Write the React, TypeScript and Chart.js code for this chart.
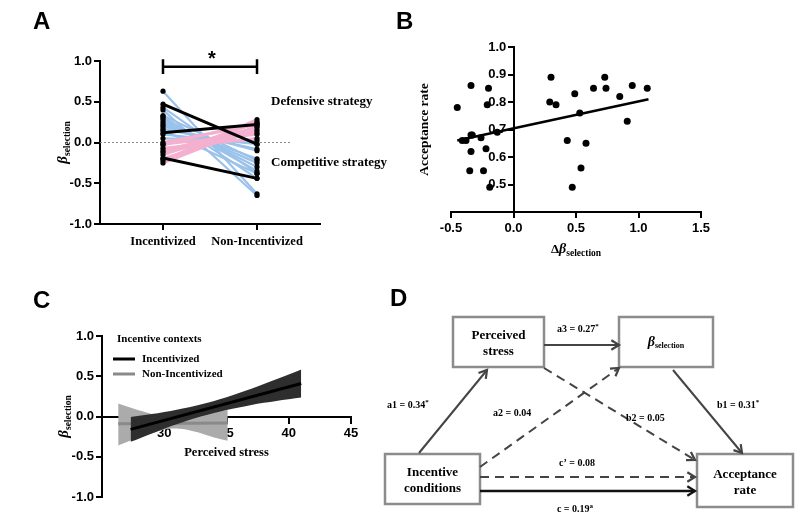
import React, { useEffect, useRef } from "react";
import { Chart, registerables } from "chart.js";

Chart.register(...registerables);

const SANS = "'Liberation Sans', Arial, sans-serif";
const SERIF = "'Liberation Serif', 'Times New Roman', serif";

// ---------------- Panel A data ----------------
const groupLabels = ["Incentivized", "Non-Incentivized"];
const blueIncentivized = [0.63, 0.43, 0.40, 0.32, 0.30, 0.28, 0.25, 0.22, 0.20, 0.17, 0.15, 0.10, 0.05, 0.33];
const blueNonIncentivized = [-0.63, -0.38, -0.65, -0.44, -0.35, -0.30, -0.25, -0.20, -0.10, -0.08, -0.38, -0.02, 0.02, -0.22];
const pinkIncentivized = [-0.25, -0.22, -0.20, -0.15, -0.12, -0.10, -0.07, -0.03, -0.02, 0.0];
const pinkNonIncentivized = [0.20, 0.28, 0.15, 0.24, 0.12, 0.18, 0.05, 0.25, 0.10, 0.22];
const meanIncentivized = [0.47, 0.12, -0.19];
const meanNonIncentivized = [-0.02, 0.22, -0.44];
const aYTicks = [-1, -0.5, 0, 0.5, 1];

// ---------------- Panel B data ----------------
const deltaBeta = [-0.45, -0.34, -0.20, -0.21, -0.41, -0.38, -0.34, -0.33, -0.26, -0.13, -0.34, -0.22, -0.35, -0.24, -0.19,
  0.30, 0.29, 0.34, 0.49, 0.53, 0.43, 0.58, 0.54, 0.47, 0.64, 0.73, 0.74, 0.85, 0.95, 0.91, 1.07];
const acceptanceRate = [0.78, 0.86, 0.85, 0.79, 0.66, 0.66, 0.68, 0.68, 0.67, 0.69, 0.62, 0.63, 0.55, 0.55, 0.49,
  0.89, 0.80, 0.79, 0.83, 0.76, 0.66, 0.65, 0.56, 0.49, 0.85, 0.89, 0.85, 0.82, 0.86, 0.73, 0.85];
const fitX = [-0.45, 1.08];
const fitY = [0.66, 0.81];

// ---------------- Panel C data ----------------
const incStressLine = [27.3, 41.0];
const incBetaLine = [-0.16, 0.41];
const incBandX = [27.3, 29, 31, 33, 35, 37, 39, 41];
const incBandUpper = [-0.005, 0.03, 0.084, 0.152, 0.24, 0.344, 0.462, 0.585];
const incBandLower = [-0.315, -0.21, -0.096, 0.002, 0.08, 0.144, 0.192, 0.235];
const nonStressLine = [26.3, 35.1];
const nonBetaLine = [-0.09, -0.08];
const nonBandX = [26.3, 27.5, 29, 30, 31, 32, 33, 34, 35.1];
const nonBandUpper = [0.16, 0.10, 0.03, -0.01, -0.03, -0.01, 0.02, 0.05, 0.08];
const nonBandLower = [-0.36, -0.29, -0.21, -0.16, -0.15, -0.17, -0.21, -0.26, -0.30];
const legendNames = ["Incentivized", "Non-Incentivized"];

// ---------------- Panel D (diagram) ----------------
const nodeNames = ["stress", "beta", "incentive", "accept"];
const nodeLines = [["Perceived", "stress"], ["β"], ["Incentive", "conditions"], ["Acceptance", "rate"]];
const nodeBoxes = [
  [73, 37, 164, 87],
  [239, 37, 333, 87],
  [5, 174, 100, 224],
  [317, 174, 413, 227],
];
const edgeNames = ["a1", "a2", "a3", "b2", "b1", "c'", "c"];
const edgeFrom = [[39, 173], [100, 187], [164, 65], [164, 88], [293, 90], [100, 197], [100, 211]];
const edgeTo = [[107, 90], [239, 88], [239, 65], [315, 180], [362, 173], [315, 197], [315, 211]];
const edgeDashed = [false, true, false, true, false, true, false];
const edgeLabels = ["a1 = 0.34", "a2 = 0.04", "a3 = 0.27", "b2 = 0.05", "b1 = 0.31", "c’ = 0.08", "c = 0.19"];
const edgeSup = ["*", "", "*", "", "*", "", "a"];
const edgeLabelPos = [[7, 128, 0], [113, 136, 0], [177, 52, 0], [246, 141, 0], [337, 128, 0], [197, 186, 1], [195, 232, 1]];

type Part = { t: string; font: string; dy?: number };
function drawParts(ctx: CanvasRenderingContext2D, parts: Part[], x: number, y: number, align: "left" | "center" | "right") {
  ctx.save();
  ctx.textBaseline = "alphabetic";
  ctx.textAlign = "left";
  let total = 0;
  for (const p of parts) { ctx.font = p.font; total += ctx.measureText(p.t).width; }
  let cx = align === "left" ? x : align === "center" ? x - total / 2 : x - total;
  for (const p of parts) {
    ctx.font = p.font;
    ctx.fillText(p.t, cx, y + (p.dy || 0));
    cx += ctx.measureText(p.t).width;
  }
  ctx.restore();
}

function betaTitle(ctx: CanvasRenderingContext2D, x: number, y: number) {
  ctx.save();
  ctx.fillStyle = "#000";
  ctx.translate(x, y);
  ctx.rotate(-Math.PI / 2);
  drawParts(ctx, [
    { t: "β", font: `italic bold 15px ${SERIF}` },
    { t: "selection", font: `bold 9.5px ${SERIF}`, dy: 3 },
  ], 0, 0, "center");
  ctx.restore();
}

const sansBold = (s: number) => ({ family: SANS, size: s, weight: "bold" as const });
const serifBold = (s: number) => ({ family: SERIF, size: s, weight: "bold" as const });

function axisStyle(tickLen = 6) {
  return {
    grid: { display: true, drawOnChartArea: false, drawTicks: true, tickLength: tickLen, color: "#000", lineWidth: 2 },
    border: { display: true, color: "#000", width: 2 },
  };
}

const baseOptions = {
  animation: false as const,
  responsive: false,
  devicePixelRatio: 1,
  events: [] as any[],
  plugins: { legend: { display: false }, tooltip: { enabled: false } },
};

function seg(x0: number, y0: number, x1: number, y1: number, color: string, width: number, dash: number[] = []) {
  return {
    data: [{ x: x0, y: y0 }, { x: x1, y: y1 }],
    showLine: true, borderColor: color, borderWidth: width, borderDash: dash,
    pointRadius: 0, fill: false, tension: 0,
  };
}

// ---------------- Panel A ----------------
function buildA(): any {
  const pts: { x: number; y: number }[] = [];
  [...blueIncentivized, ...pinkIncentivized, ...meanIncentivized].forEach((v) => pts.push({ x: 0, y: v }));
  [...blueNonIncentivized, ...pinkNonIncentivized, ...meanNonIncentivized].forEach((v) => pts.push({ x: 1, y: v }));
  const datasets: any[] = [];
  datasets.push({ data: pts, pointRadius: 2.6, pointBackgroundColor: "#000", pointBorderWidth: 0, showLine: false });
  meanIncentivized.forEach((v, i) => datasets.push(seg(0, v, 1, meanNonIncentivized[i], "#000", 3)));
  pinkIncentivized.forEach((v, i) => datasets.push(seg(0, v, 1, pinkNonIncentivized[i], "#f3b0cf", 3)));
  blueIncentivized.forEach((v, i) => datasets.push(seg(0, v, 1, blueNonIncentivized[i], "#9ac2ea", 2.2)));
  datasets.push(seg(-0.67, 0, 1.35, 0, "#8a8a8a", 1, [2, 2]));

  const plugin = {
    id: "panelA",
    afterDraw(chart: any) {
      const { ctx, scales: { x, y } } = chart;
      betaTitle(ctx, 67, y.getPixelForValue(0));
      ctx.save();
      ctx.strokeStyle = "#000";
      ctx.lineWidth = 2.5;
      const bx0 = x.getPixelForValue(0), bx1 = x.getPixelForValue(1);
      const by = y.getPixelForValue(0.93), byT = y.getPixelForValue(1.02), byB = y.getPixelForValue(0.84);
      ctx.beginPath();
      ctx.moveTo(bx0, by); ctx.lineTo(bx1, by);
      ctx.moveTo(bx0, byT); ctx.lineTo(bx0, byB);
      ctx.moveTo(bx1, byT); ctx.lineTo(bx1, byB);
      ctx.stroke();
      ctx.fillStyle = "#000";
      ctx.font = `bold 20px ${SANS}`;
      ctx.textAlign = "center";
      ctx.textBaseline = "alphabetic";
      ctx.fillText("*", x.getPixelForValue(0.52), by - 2);
      ctx.font = `bold 13px ${SERIF}`;
      ctx.textAlign = "left";
      ctx.textBaseline = "middle";
      ctx.fillText("Defensive strategy", x.getPixelForValue(1.15), y.getPixelForValue(0.5));
      ctx.fillText("Competitive strategy", x.getPixelForValue(1.15), y.getPixelForValue(-0.25));
      ctx.restore();
    },
  };

  return {
    type: "scatter",
    data: { datasets },
    options: {
      ...baseOptions,
      layout: { padding: { left: 0, right: 80, top: 61, bottom: 0 } },
      scales: {
        x: {
          type: "linear", min: -0.67, max: 1.67,
          afterBuildTicks: (s: any) => { s.ticks = [{ value: 0 }, { value: 1 }]; },
          afterFit: (s: any) => { s.height = 36; },
          ticks: { color: "#000", font: serifBold(12.5), padding: 4, autoSkip: false, maxRotation: 0,
            callback: (_v: any, i: number) => groupLabels[i] },
          ...axisStyle(6),
        },
        y: {
          type: "linear", min: -1, max: 1,
          afterBuildTicks: (s: any) => { s.ticks = aYTicks.map((v) => ({ value: v })); },
          afterFit: (s: any) => { s.width = 100; },
          ticks: { color: "#000", font: sansBold(13), padding: 2, callback: (v: any) => Number(v).toFixed(1) },
          ...axisStyle(6),
        },
      },
    },
    plugins: [plugin],
  };
}

// ---------------- Panel B ----------------
function buildB(): any {
  const pts = deltaBeta.map((v, i) => ({ x: v, y: acceptanceRate[i] }));
  const plugin = {
    id: "panelB",
    afterDraw(chart: any) {
      const { ctx, scales: { x, y } } = chart;
      ctx.save();
      ctx.fillStyle = "#000";
      ctx.translate(25, y.getPixelForValue(0.7));
      ctx.rotate(-Math.PI / 2);
      ctx.font = `bold 13.5px ${SERIF}`;
      ctx.textAlign = "center";
      ctx.textBaseline = "middle";
      ctx.fillText("Acceptance rate", 0, 0);
      ctx.restore();
      ctx.save();
      ctx.fillStyle = "#000";
      drawParts(ctx, [
        { t: "Δ", font: `bold 13px ${SERIF}` },
        { t: "β", font: `italic bold 14px ${SERIF}` },
        { t: "selection", font: `bold 9.5px ${SERIF}`, dy: 3 },
      ], x.getPixelForValue(0.5), 253, "center");
      ctx.restore();
    },
  };
  return {
    type: "scatter",
    data: {
      datasets: [
        { data: pts, pointRadius: 3.5, pointBackgroundColor: "#000", pointBorderWidth: 0, showLine: false },
        seg(fitX[0], fitY[0], fitX[1], fitY[1], "#000", 2.5),
      ],
    },
    options: {
      ...baseOptions,
      layout: { padding: { left: 51, right: 99, top: 47, bottom: 0 } },
      scales: {
        x: {
          type: "linear", min: -0.5, max: 1.5,
          afterFit: (s: any) => { s.height = 48; },
          ticks: { stepSize: 0.5, color: "#000", font: sansBold(13), padding: 3, callback: (v: any) => Number(v).toFixed(1) },
          ...axisStyle(6),
        },
        y: {
          type: "linear", min: 0.4, max: 1.0, position: { x: 0 },
          ticks: { stepSize: 0.1, color: "#000", font: sansBold(13),
            callback: (v: any) => (Math.abs(v - 0.4) < 1e-6 ? "" : Number(v).toFixed(1) + "  ") },
          ...axisStyle(5),
        },
      },
    },
    plugins: [plugin],
  };
}

// ---------------- Panel C ----------------
function buildC(): any {
  const band = (xs: number[], ys: number[]) => xs.map((v, i) => ({ x: v, y: ys[i] }));
  const plugin = {
    id: "panelC",
    afterDraw(chart: any) {
      const { ctx, scales: { x, y }, chartArea } = chart;
      betaTitle(ctx, 68, y.getPixelForValue(0));
      ctx.save();
      ctx.fillStyle = "#000";
      ctx.font = `bold 12.5px ${SERIF}`;
      ctx.textAlign = "center";
      ctx.textBaseline = "alphabetic";
      ctx.fillText("Perceived stress", x.getPixelForValue(35), y.getPixelForValue(0) + 39);
      // legend
      const L = chartArea.left, T = chartArea.top;
      ctx.font = `bold 11px ${SERIF}`;
      ctx.textAlign = "left";
      ctx.textBaseline = "middle";
      ctx.fillText("Incentive contexts", L + 15, T + 3);
      const colors = ["#000", "#8a8a8a"];
      legendNames.forEach((n, i) => {
        const yy = T + 23 + i * 15;
        ctx.strokeStyle = colors[i];
        ctx.lineWidth = 3;
        ctx.beginPath();
        ctx.moveTo(L + 11, yy);
        ctx.lineTo(L + 33, yy);
        ctx.stroke();
        ctx.fillStyle = "#000";
        ctx.fillText(n, L + 40, yy);
      });
      ctx.restore();
    },
  };
  return {
    type: "scatter",
    data: {
      datasets: [
        seg(incStressLine[0], incBetaLine[0], incStressLine[1], incBetaLine[1], "#000", 3),
        { data: band(incBandX, incBandUpper), showLine: true, borderWidth: 0, pointRadius: 0, fill: false, tension: 0.3 },
        { data: band(incBandX, incBandLower), showLine: true, borderWidth: 0, pointRadius: 0, fill: 1, backgroundColor: "#2e2e2e", tension: 0.3 },
        seg(nonStressLine[0], nonBetaLine[0], nonStressLine[1], nonBetaLine[1], "#8a8a8a", 3),
        { data: band(nonBandX, nonBandUpper), showLine: true, borderWidth: 0, pointRadius: 0, fill: false, tension: 0.3 },
        { data: band(nonBandX, nonBandLower), showLine: true, borderWidth: 0, pointRadius: 0, fill: 4, backgroundColor: "#ababab", tension: 0.3 },
      ],
    },
    options: {
      ...baseOptions,
      layout: { padding: { left: 0, right: 49, top: 76, bottom: 19 } },
      scales: {
        x: {
          type: "linear", min: 25, max: 45, position: { y: 0 },
          ticks: { stepSize: 5, color: "#000", font: sansBold(13), padding: 3, callback: (v: any) => (v === 25 ? "" : String(v)) },
          ...axisStyle(6),
        },
        y: {
          type: "linear", min: -1, max: 1,
          afterFit: (s: any) => { s.width = 102; },
          ticks: { stepSize: 0.5, color: "#000", font: sansBold(13), padding: 2, callback: (v: any) => Number(v).toFixed(1) },
          ...axisStyle(6),
        },
      },
    },
    plugins: [plugin],
  };
}

// ---------------- Panel D ----------------
function buildD(): any {
  const datasets = edgeNames.map((_n, i) =>
    seg(edgeFrom[i][0], edgeFrom[i][1], edgeTo[i][0], edgeTo[i][1], i === 6 ? "#111" : "#444", i === 6 ? 2.5 : 2, edgeDashed[i] ? [9, 6] : []));
  const plugin = {
    id: "panelD",
    beforeDatasetsDraw(chart: any) {
      const { ctx, scales: { x, y } } = chart;
      ctx.save();
      ctx.strokeStyle = "#8c8c8c";
      ctx.lineWidth = 2.5;
      nodeBoxes.forEach((b) => {
        const x0 = x.getPixelForValue(b[0]), y0 = y.getPixelForValue(b[1]);
        const x1 = x.getPixelForValue(b[2]), y1 = y.getPixelForValue(b[3]);
        ctx.strokeRect(x0, y0, x1 - x0, y1 - y0);
      });
      ctx.restore();
    },
    afterDatasetsDraw(chart: any) {
      const { ctx, scales: { x, y } } = chart;
      ctx.save();
      chart.data.datasets.forEach((ds: any, i: number) => {
        const meta = chart.getDatasetMeta(i);
        const p0 = meta.data[0], p1 = meta.data[1];
        const ang = Math.atan2(p1.y - p0.y, p1.x - p0.x);
        const L = 9;
        ctx.strokeStyle = ds.borderColor;
        ctx.lineWidth = 2.2;
        ctx.setLineDash([]);
        ctx.beginPath();
        ctx.moveTo(p1.x - L * Math.cos(ang - 0.55), p1.y - L * Math.sin(ang - 0.55));
        ctx.lineTo(p1.x, p1.y);
        ctx.lineTo(p1.x - L * Math.cos(ang + 0.55), p1.y - L * Math.sin(ang + 0.55));
        ctx.stroke();
      });
      ctx.fillStyle = "#000";
      nodeBoxes.forEach((b, i) => {
        const cx = x.getPixelForValue((b[0] + b[2]) / 2);
        const cy = y.getPixelForValue((b[1] + b[3]) / 2);
        const lines = nodeLines[i];
        if (nodeNames[i] === "beta") {
          drawParts(ctx, [
            { t: "β", font: `italic bold 14px ${SERIF}` },
            { t: "selection", font: `bold 8px ${SERIF}`, dy: 2 },
          ], cx, cy + 4, "center");
        } else {
          ctx.font = `bold 13px ${SERIF}`;
          ctx.textAlign = "center";
          ctx.textBaseline = "middle";
          ctx.fillText(lines[0], cx, cy - 6);
          ctx.fillText(lines[1], cx, cy + 10);
        }
      });
      edgeLabels.forEach((t, i) => {
        const [lx, ly, centered] = edgeLabelPos[i];
        const parts: Part[] = [{ t, font: `bold 10px ${SERIF}` }];
        if (edgeSup[i]) parts.push({ t: edgeSup[i], font: `bold 7px ${SERIF}`, dy: -4 });
        drawParts(ctx, parts, x.getPixelForValue(lx), y.getPixelForValue(ly), centered ? "center" : "left");
      });
      ctx.restore();
    },
  };
  return {
    type: "scatter",
    data: { datasets },
    options: {
      ...baseOptions,
      layout: { padding: 0 },
      scales: {
        x: { type: "linear", min: 0, max: 420, display: false },
        y: { type: "linear", min: 0, max: 236, reverse: true, display: false },
      },
    },
    plugins: [plugin],
  };
}

function ChartBox(props: { left: number; top: number; width: number; height: number; build: () => any }) {
  const ref = useRef<HTMLCanvasElement>(null);
  useEffect(() => {
    const chart = new Chart(ref.current as HTMLCanvasElement, props.build());
    return () => chart.destroy();
  }, []);
  return (
    <canvas
      ref={ref}
      width={props.width}
      height={props.height}
      style={{ position: "absolute", left: props.left, top: props.top, width: props.width, height: props.height }}
    />
  );
}

function Letter(props: { x: number; y: number; t: string }) {
  return (
    <div style={{ position: "absolute", left: props.x, top: props.y, font: `bold 24px ${SANS}`, lineHeight: "24px", color: "#000" }}>
      {props.t}
    </div>
  );
}

export default function App() {
  return (
    <div style={{ position: "absolute", left: 0, top: 0, width: 800, height: 516, background: "#fff", overflow: "hidden" }}>
      <ChartBox left={0} top={0} width={400} height={260} build={buildA} />
      <ChartBox left={400} top={0} width={400} height={260} build={buildB} />
      <ChartBox left={0} top={260} width={400} height={256} build={buildC} />
      <ChartBox left={380} top={280} width={420} height={236} build={buildD} />
      <Letter x={33} y={9} t="A" />
      <Letter x={396} y={9} t="B" />
      <Letter x={33} y={288} t="C" />
      <Letter x={390} y={286} t="D" />
    </div>
  );
}
